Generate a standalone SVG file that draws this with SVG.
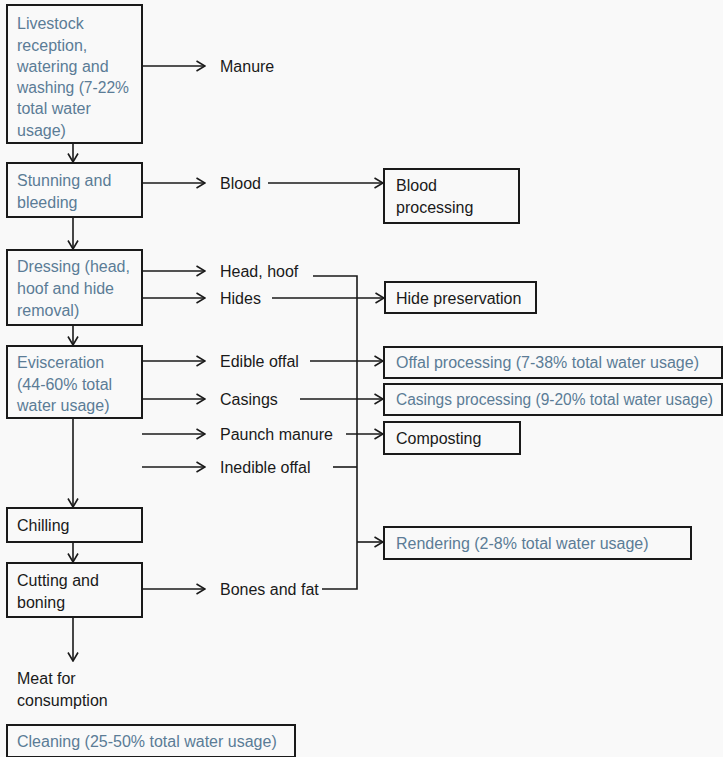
<svg xmlns="http://www.w3.org/2000/svg" width="723" height="757" viewBox="0 0 723 757">
<style>
  .box{fill:none;stroke:#1a1a1a;stroke-width:2}
  .ln{fill:none;stroke:#1a1a1a;stroke-width:1.6}
  text{font-family:"Liberation Sans",Arial,sans-serif;font-size:16px}
  .b{fill:#5b7c96}
  .k{fill:#1a1a1a}
</style>
<defs>
  <marker id="arr" viewBox="0 0 10 12" refX="9.5" refY="6" markerWidth="10" markerHeight="12" markerUnits="userSpaceOnUse" orient="auto">
    <path d="M1,1 L9.5,6 L1,11" fill="none" stroke="#1a1a1a" stroke-width="1.6"/>
  </marker>
</defs>
<rect width="723" height="757" fill="#f9f9f9"/>

<g id="livestock">
  <rect class="box" x="7" y="5" width="135" height="138"/>
  <text class="b" x="17" y="29">Livestock</text>
  <text class="b" x="17" y="51">reception,</text>
  <text class="b" x="17" y="72">watering and</text>
  <text class="b" x="17" y="93" textLength="112" lengthAdjust="spacingAndGlyphs">washing (7-22%</text>
  <text class="b" x="17" y="114">total water</text>
  <text class="b" x="17" y="136">usage)</text>
</g>
<g id="stunning">
  <rect class="box" x="7" y="163" width="135" height="54"/>
  <text class="b" x="17" y="186">Stunning and</text>
  <text class="b" x="17" y="208">bleeding</text>
</g>
<g id="dressing">
  <rect class="box" x="7" y="250" width="135" height="75"/>
  <text class="b" x="17" y="272">Dressing (head,</text>
  <text class="b" x="17" y="294">hoof and hide</text>
  <text class="b" x="17" y="316">removal)</text>
</g>
<g id="evisceration">
  <rect class="box" x="7" y="346" width="135" height="72"/>
  <text class="b" x="17" y="368">Evisceration</text>
  <text class="b" x="17" y="390">(44-60% total</text>
  <text class="b" x="17" y="411">water usage)</text>
</g>
<g id="chilling">
  <rect class="box" x="7" y="508" width="135" height="34"/>
  <text class="k" x="17" y="531">Chilling</text>
</g>
<g id="cutting">
  <rect class="box" x="7" y="563" width="135" height="54"/>
  <text class="k" x="17" y="586">Cutting and</text>
  <text class="k" x="17" y="608">boning</text>
</g>
<g id="meat">
  <text class="k" x="17" y="684">Meat for</text>
  <text class="k" x="17" y="706">consumption</text>
</g>
<g id="cleaning">
  <rect class="box" x="7" y="725" width="288" height="32"/>
  <text class="b" x="17" y="747">Cleaning (25-50% total water usage)</text>
</g>

<g id="manure"><text class="k" x="220" y="72">Manure</text></g>
<g id="blood"><text class="k" x="220" y="189">Blood</text></g>
<g id="headhoof"><text class="k" x="220" y="277">Head, hoof</text></g>
<g id="hides"><text class="k" x="220" y="304">Hides</text></g>
<g id="edible"><text class="k" x="220" y="367">Edible offal</text></g>
<g id="casings"><text class="k" x="220" y="405">Casings</text></g>
<g id="paunch"><text class="k" x="220" y="440">Paunch manure</text></g>
<g id="inedible"><text class="k" x="220" y="473">Inedible offal</text></g>
<g id="bones"><text class="k" x="220" y="595">Bones and fat</text></g>

<g id="bloodproc">
  <rect class="box" x="384" y="169" width="135" height="54"/>
  <text class="k" x="396" y="191">Blood</text>
  <text class="k" x="396" y="213">processing</text>
</g>
<g id="hidepres">
  <rect class="box" x="385" y="282" width="151" height="31"/>
  <text class="k" x="396" y="304">Hide preservation</text>
</g>
<g id="offalproc">
  <rect class="box" x="384" y="347" width="338" height="31"/>
  <text class="b" x="396" y="368">Offal processing (7-38% total water usage)</text>
</g>
<g id="casingsproc">
  <rect class="box" x="384" y="384" width="338" height="31"/>
  <text class="b" x="396" y="405" textLength="317" lengthAdjust="spacingAndGlyphs">Casings processing (9-20% total water usage)</text>
</g>
<g id="composting">
  <rect class="box" x="384" y="422" width="136" height="32"/>
  <text class="k" x="396" y="444">Composting</text>
</g>
<g id="rendering">
  <rect class="box" x="384" y="527" width="307" height="32"/>
  <text class="b" x="396" y="549">Rendering (2-8% total water usage)</text>
</g>

<g id="connectors">
  <line class="ln" x1="142" y1="66" x2="205" y2="66" marker-end="url(#arr)"/>
  <line class="ln" x1="73" y1="143" x2="73" y2="162" marker-end="url(#arr)"/>
  <line class="ln" x1="142" y1="183" x2="205" y2="183" marker-end="url(#arr)"/>
  <line class="ln" x1="268" y1="183" x2="383" y2="183" marker-end="url(#arr)"/>
  <line class="ln" x1="73" y1="217" x2="73" y2="249" marker-end="url(#arr)"/>
  <line class="ln" x1="142" y1="271" x2="205" y2="271" marker-end="url(#arr)"/>
  <line class="ln" x1="142" y1="298" x2="205" y2="298" marker-end="url(#arr)"/>
  <line class="ln" x1="272" y1="298" x2="384" y2="298" marker-end="url(#arr)"/>
  <polyline class="ln" points="313,276 357,276 357,589 322,589"/>
  <line class="ln" x1="73" y1="325" x2="73" y2="345" marker-end="url(#arr)"/>
  <line class="ln" x1="142" y1="361" x2="205" y2="361" marker-end="url(#arr)"/>
  <line class="ln" x1="310" y1="361" x2="383" y2="361" marker-end="url(#arr)"/>
  <line class="ln" x1="142" y1="399" x2="205" y2="399" marker-end="url(#arr)"/>
  <line class="ln" x1="300" y1="399" x2="383" y2="399" marker-end="url(#arr)"/>
  <line class="ln" x1="142" y1="434" x2="205" y2="434" marker-end="url(#arr)"/>
  <line class="ln" x1="346" y1="434" x2="383" y2="434" marker-end="url(#arr)"/>
  <line class="ln" x1="142" y1="467" x2="205" y2="467" marker-end="url(#arr)"/>
  <line class="ln" x1="333" y1="467" x2="357" y2="467"/>
  <line class="ln" x1="357" y1="542" x2="383" y2="542" marker-end="url(#arr)"/>
  <line class="ln" x1="73" y1="418" x2="73" y2="507" marker-end="url(#arr)"/>
  <line class="ln" x1="73" y1="542" x2="73" y2="562" marker-end="url(#arr)"/>
  <line class="ln" x1="142" y1="589" x2="205" y2="589" marker-end="url(#arr)"/>
  <line class="ln" x1="73" y1="617" x2="73" y2="661" marker-end="url(#arr)"/>
</g>
</svg>
